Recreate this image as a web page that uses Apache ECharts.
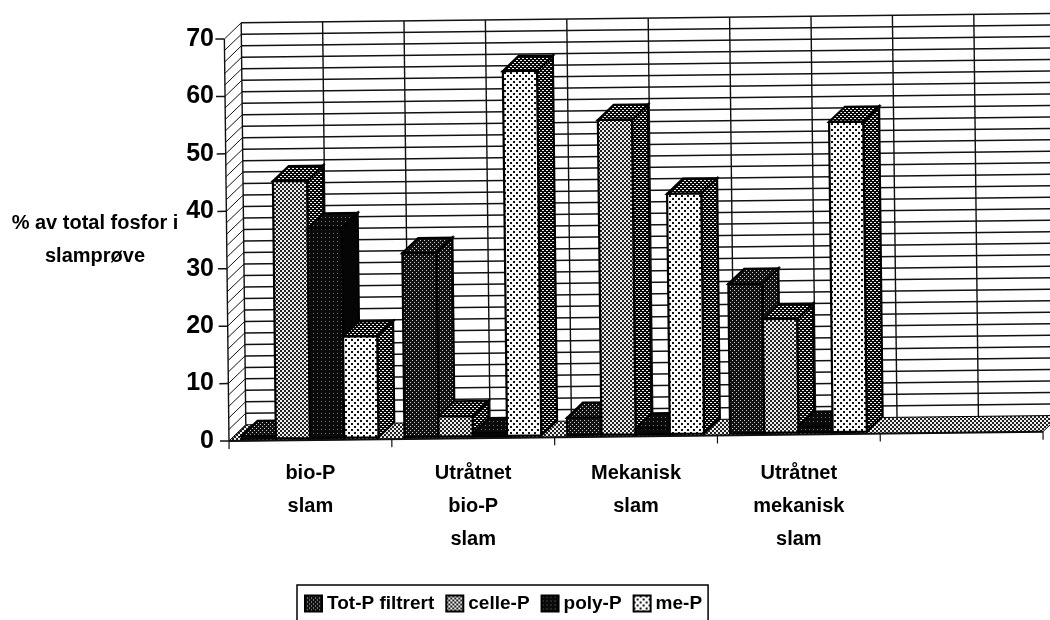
<!DOCTYPE html>
<html>
<head>
<meta charset="utf-8">
<script src="https://cdn.jsdelivr.net/npm/echarts@6/dist/echarts.min.js"></script>
<style>
html,body{margin:0;padding:0;background:#fff;}
#chart{width:1050px;height:620px;}
</style>
</head>
<body>
<div id="chart"></div>
<script>
var categories = ['bio-P\nslam', 'Utråtnet\nbio-P\nslam', 'Mekanisk\nslam', 'Utråtnet\nmekanisk\nslam', ''];
var seriesNames = ['Tot-P filtrert', 'celle-P', 'poly-P', 'me-P'];
var totP = [0.5, 32, 3, 26];
var celleP = [44.8, 3.5, 54.8, 19.8];
var polyP = [36.5, 0.5, 1, 1];
var meP = [17.6, 63.5, 41.8, 54];
var yTicks = [0, 10, 20, 30, 40, 50, 60, 70];

var fontName = '"Liberation Sans", sans-serif';
var depthX = 16, depthY = 15;      // 柱子厚度
var wallX = 17, wallY = 16;        // 底面深度
var skew = 0.0115;                 // 扫描件有一点歪

// 抖动网纹
function dither(bg, fg, size, dots) {
    var c = document.createElement('canvas');
    c.width = size;
    c.height = size;
    var ctx = c.getContext('2d');
    ctx.fillStyle = bg;
    ctx.fillRect(0, 0, size, size);
    ctx.fillStyle = fg;
    dots.forEach(function (d) {
        ctx.fillRect(d[0], d[1], d[2], d[2]);
    });
    return {image: c, repeat: 'repeat'};
}
var patDark = dither('#111', '#ccc', 4, [[0, 0, 1], [2, 2, 1]]);
var patMid = dither('#222', '#eee', 4, [[0, 0, 2], [2, 2, 2]]);
var patBlack = dither('#0a0a0a', '#777', 4, [[1, 1, 1]]);
var patLight = dither('#fafafa', '#111', 6, [[0, 0, 2], [3, 3, 2]]);
var patSide = dither('#080808', '#eee', 4, [[0, 0, 1], [1, 0, 1], [2, 2, 1], [3, 2, 1]]);

var faces = [
    {front: patDark, side: patDark, top: patDark},
    {front: patMid, side: patSide, top: patSide},
    {front: patBlack, side: '#050505', top: patBlack},
    {front: patLight, side: patSide, top: patSide}
];

// 整张图绕原点转一点点
function tiltFn(api) {
    var band = api.size([1, 0])[0];
    var o = api.coord([0, 0]);
    var ox = o[0] - band / 2, oy = o[1];
    return function (p) {
        var dx = p[0] - ox, dy = p[1] - oy;
        return [ox + dx + dy * skew, oy + dy - dx * skew];
    };
}

function poly(points, fill, lw) {
    return {
        type: 'polygon',
        shape: {points: points},
        style: {fill: fill, stroke: '#000', lineWidth: lw === undefined ? 2.2 : lw}
    };
}
function line(a, b, lw) {
    return {
        type: 'line',
        shape: {x1: a[0], y1: a[1], x2: b[0], y2: b[1]},
        style: {stroke: '#111', lineWidth: lw || 1, fill: null}
    };
}

// 背景墙、底面、坐标轴
function renderFrame(params, api) {
    var t = tiltFn(api);
    var band = api.size([1, 0])[0];
    var left = api.coord([0, 0])[0] - band / 2;
    var right = left + band * categories.length;
    var base = api.coord([0, 0])[1];
    var top = api.coord([0, 70])[1];
    var kids = [];
    for (var v = 2; v <= 70; v += 2) {
        var y = api.coord([0, v])[1];
        kids.push(line(t([left, y]), t([left + wallX, y - wallY])));
        kids.push(line(t([left + wallX, y - wallY]), t([right + wallX, y - wallY]), 1.5));
    }
    for (var i = 0; i <= categories.length * 2; i++) {
        var x = left + wallX + band * i / 2;
        kids.push(line(t([x, base - wallY]), t([x, top - wallY]), 1.4));
    }
    kids.push(poly([t([left, base]), t([right, base]), t([right + wallX, base - wallY]), t([left + wallX, base - wallY])], patMid, 1));
    kids.push(line(t([left, base]), t([left, top]), 1.4));
    kids.push(line(t([left, base]), t([right, base]), 2));
    kids.push(line(t([left, base]), t([left + wallX, base - wallY])));
    yTicks.forEach(function (tv) {
        var ty = api.coord([0, tv])[1];
        kids.push(line(t([left - 9, ty]), t([left, ty]), 1.5));
    });
    for (var k = 0; k <= categories.length; k++) {
        var tx = left + band * k;
        kids.push(line(t([tx, base]), t([tx, base + 8]), 1.2));
    }
    return {type: 'group', children: kids};
}

function renderBar(seriesIndex) {
    return function (params, api) {
        var t = tiltFn(api);
        var band = api.size([1, 0])[0];
        var c = api.coord([api.value(0), 0]);
        var h = api.coord([api.value(0), api.value(1)]);
        var w = band * 0.21;
        var x0 = c[0] - band / 2 + band * 0.078 + w * seriesIndex;
        var x1 = x0 + w;
        var y0 = c[1] - 2;
        var y1 = h[1] - 2;
        var f = faces[seriesIndex];
        return {
            type: 'group',
            children: [
                poly([t([x1, y0]), t([x1 + depthX, y0 - depthY]), t([x1 + depthX, y1 - depthY]), t([x1, y1])], f.side),
                poly([t([x0, y1]), t([x1, y1]), t([x1 + depthX, y1 - depthY]), t([x0 + depthX, y1 - depthY])], f.top),
                poly([t([x0, y0]), t([x1, y0]), t([x1, y1]), t([x0, y1])], f.front)
            ]
        };
    };
}

var values = [totP, celleP, polyP, meP];
var barSeries = seriesNames.map(function (name, idx) {
    return {
        name: name,
        type: 'custom',
        renderItem: renderBar(idx),
        clip: false,
        z: 3,
        itemStyle: {color: faces[idx].front, borderColor: '#000', borderWidth: 1},
        encode: {x: 0, y: 1},
        data: values[idx].map(function (v, i) { return [i, v]; })
    };
});

var myChart = echarts.init(document.getElementById('chart'));
var option = {
    animation: false,
    backgroundColor: '#fff',
    grid: {left: 229, right: 7, top: 39, bottom: 179},
    legend: {
        left: 297,
        top: 585,
        icon: 'rect',
        itemWidth: 17,
        itemHeight: 16,
        itemGap: 11,
        padding: [9, 6, 9, 7],
        borderColor: '#000',
        borderWidth: 1.5,
        selectedMode: false,
        data: seriesNames,
        textStyle: {fontFamily: fontName, fontWeight: 'bold', fontSize: 19, color: '#000'}
    },
    xAxis: {
        type: 'category',
        data: categories,
        axisLine: {show: false},
        axisTick: {show: false},
        axisLabel: {
            interval: 0,
            margin: 16,
            lineHeight: 33,
            fontFamily: fontName,
            fontWeight: 'bold',
            fontSize: 20,
            color: '#000'
        }
    },
    yAxis: {
        type: 'value',
        min: 0,
        max: 70,
        interval: 10,
        name: '% av total fosfor i\nslamprøve',
        nameLocation: 'middle',
        nameRotate: 0,
        nameGap: 134,
        nameTextStyle: {fontFamily: fontName, fontWeight: 'bold', fontSize: 20, color: '#000', lineHeight: 33, align: 'center', padding: [4, 0, 0, 0]},
        axisLine: {show: false},
        axisTick: {show: false},
        splitLine: {show: false},
        axisLabel: {margin: 15, fontFamily: fontName, fontWeight: 'bold', fontSize: 25, color: '#000'}
    },
    series: [{
        type: 'custom',
        renderItem: renderFrame,
        clip: false,
        silent: true,
        z: 1,
        encode: {x: 0, y: 1},
        data: [[0, 0]]
    }].concat(barSeries)
};
myChart.setOption(option);
</script>
</body>
</html>
